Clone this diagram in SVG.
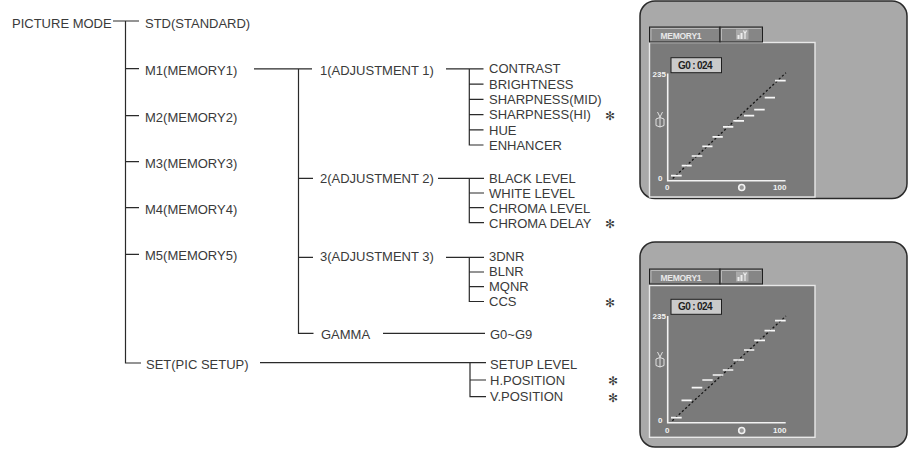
<svg xmlns="http://www.w3.org/2000/svg" width="921" height="450" viewBox="0 0 921 450">
<defs>
<style>
.t{font-family:"Liberation Sans",Arial,sans-serif;font-size:13px;fill:#3a3a3a}
.ast{font-family:"DejaVu Sans",sans-serif;font-size:12px;fill:#3a3a3a;text-anchor:middle}
.ln{fill:none;stroke:#2a2a2a;stroke-width:1.2}
.outer{fill:#a9a9a9;stroke:#2a2a2a;stroke-width:1.5}
.panel{fill:#7a7a7a;stroke:#e8e8e8;stroke-width:1.4}
.tab{fill:#868686;stroke:#1e1e1e;stroke-width:1}
.hl{fill:none;stroke:#b8b8b8;stroke-width:1}
.tabtx{font-family:"Liberation Sans",Arial,sans-serif;font-weight:bold;font-size:8.5px;fill:#e8e8e8}
.gbox{fill:#cacaca;stroke:#1e1e1e;stroke-width:1}
.gtx{font-family:"Liberation Sans",Arial,sans-serif;font-weight:bold;font-size:10px;fill:#1e1e1e}
.lab{font-family:"Liberation Sans",Arial,sans-serif;font-weight:bold;font-size:8px;fill:#f2f2f2}
.axis{fill:none;stroke:#f2f2f2;stroke-width:1.6}
.step{fill:none;stroke:#f7f7f7;stroke-width:1.7}
.dot{fill:none;stroke:#151515;stroke-width:1.3;stroke-dasharray:2.2 2.2}
.ico{fill:none;stroke:#ececec;stroke-width:0.9}
</style>
</defs>

<g id="connectors">
<path class="ln" d="M113,21 H139 M125.5,21 V363 H141 M125.5,68.6 H139 M125.5,115.7 H139 M125.5,161.7 H139 M125.5,207.7 H139 M125.5,254.3 H139"/>
<path class="ln" d="M254,68.8 H312 M298.5,68.8 V333.3 H313.5 M298.5,178.3 H313 M298.5,257.3 H313"/>
<path class="ln" d="M446,68.8 H483.5 M469.3,68.8 V145 H483.5 M469.3,84.2 H483.5 M469.3,99.4 H483.5 M469.3,114.6 H483.5 M469.3,129.8 H483.5"/>
<path class="ln" d="M438,178.3 H484 M469.3,178.3 V222.7 H484 M469.3,193 H484 M469.3,207.7 H484"/>
<path class="ln" d="M446,257.3 H484 M469.3,257.3 V301.5 H484 M469.3,272 H484 M469.3,286.7 H484"/>
<path class="ln" d="M383,333.3 H485"/>
<path class="ln" d="M260,362.7 H486 M470,362.7 V396.7 H486 M470,380 H486"/>
</g>

<g id="root"><text class="t" x="12" y="27.5">PICTURE MODE</text></g>
<g id="std"><text class="t" x="145" y="27.5">STD(STANDARD)</text></g>
<g id="m1"><text class="t" x="145" y="75">M1(MEMORY1)</text></g>
<g id="m2"><text class="t" x="145" y="121.5">M2(MEMORY2)</text></g>
<g id="m3"><text class="t" x="145" y="167.5">M3(MEMORY3)</text></g>
<g id="m4"><text class="t" x="145" y="213.5">M4(MEMORY4)</text></g>
<g id="m5"><text class="t" x="145" y="260">M5(MEMORY5)</text></g>
<g id="set"><text class="t" x="146" y="368.5">SET(PIC SETUP)</text></g>

<g id="adj1"><text class="t" x="320" y="75">1(ADJUSTMENT 1)</text></g>
<g id="adj2"><text class="t" x="320" y="182.5">2(ADJUSTMENT 2)</text></g>
<g id="adj3"><text class="t" x="320" y="261">3(ADJUSTMENT 3)</text></g>
<g id="gamma"><text class="t" x="321" y="339">GAMMA</text></g>

<g id="adj1-items">
<text class="t" x="489" y="73">CONTRAST</text>
<text class="t" x="489" y="88.7">BRIGHTNESS</text>
<text class="t" x="489" y="104">SHARPNESS(MID)</text>
<text class="t" x="489" y="119.3">SHARPNESS(HI)</text>
<text class="t" x="489" y="134.7">HUE</text>
<text class="t" x="489" y="150">ENHANCER</text>
<text class="ast" x="610" y="120">✻</text>
</g>
<g id="adj2-items">
<text class="t" x="489" y="182.5">BLACK LEVEL</text>
<text class="t" x="489" y="197.7">WHITE LEVEL</text>
<text class="t" x="489" y="213">CHROMA LEVEL</text>
<text class="t" x="489" y="228">CHROMA DELAY</text>
<text class="ast" x="610" y="228">✻</text>
</g>
<g id="adj3-items">
<text class="t" x="489" y="260.5">3DNR</text>
<text class="t" x="489" y="275.7">BLNR</text>
<text class="t" x="489" y="290.8">MQNR</text>
<text class="t" x="489" y="306">CCS</text>
<text class="ast" x="610" y="307">✻</text>
</g>
<g id="gamma-items"><text class="t" x="490" y="339">G0~G9</text></g>
<g id="set-items">
<text class="t" x="490" y="368.5">SETUP LEVEL</text>
<text class="t" x="490" y="385">H.POSITION</text>
<text class="t" x="490" y="400.5">V.POSITION</text>
<text class="ast" x="613" y="385">✻</text>
<text class="ast" x="613" y="401.5">✻</text>
</g>

<g id="screen1">
<rect class="outer" x="640" y="1" width="267" height="197.5" rx="15"/>
<rect class="panel" x="649.5" y="42.5" width="165.5" height="154.5"/>
<rect class="tab" x="649.5" y="27" width="70.5" height="15"/>
<path class="hl" d="M651,40.5 V28.5 H718.5"/>
<rect class="tab" x="720" y="27" width="42.5" height="15"/>
<path class="hl" d="M721.5,40.5 V28.5 H761"/>
<text class="tabtx" x="660.5" y="38.5" textLength="41">MEMORY1</text>
<rect x="736" y="29.5" width="12.5" height="10" fill="#a9a9a9"/>
<rect x="737.5" y="35" width="2" height="4" fill="#ececec"/>
<rect x="740.5" y="33" width="2" height="6" fill="#ececec"/>
<path d="M743.5,30.5 L745,33.5 L746.5,30.5 M745,33.5 V39" stroke="#ececec" stroke-width="1.2" fill="none"/>
<rect class="gbox" x="671" y="57.7" width="50.5" height="15"/>
<text class="gtx" x="678" y="68.7" textLength="34.5">G0 : 024</text>
<text class="lab" x="652.5" y="76.5">235</text>
<text class="lab" x="658" y="180.5">0</text>
<text class="lab" x="665" y="189.5">0</text>
<text class="lab" x="773" y="189.5">100</text>
<circle cx="741.7" cy="187.5" r="3" fill="#9a9a9a" stroke="#f2f2f2" stroke-width="1.6"/>
<path class="ico" d="M657.5,112 L660,117 L662.5,112 M656,119 L660,117.5 L664,119 V125.5 L660,127 L656,125.5 Z M660,117.5 V127"/>
<path class="axis" d="M667.7,73.5 V180.7 H785.5"/>
<path class="dot" d="M672.7,178.5 L786,72.7"/>
<path class="step" d="M671,175.7 h10.7 M681.7,165.7 h10 M691.7,156 h10.6 M702.3,146.3 h10.2 M712.5,136.8 h10.3 M723,126.8 h10.3 M733.3,120.8 h10.7 M744,115.7 h10.2 M754.2,109.6 h10.5 M764.7,97.6 h10.3 M775,80.7 h10.7"/>
</g>

<g id="screen2">
<rect class="outer" x="640" y="242" width="267" height="205" rx="15"/>
<rect class="panel" x="649.5" y="285.5" width="165.5" height="151.8"/>
<rect class="tab" x="649.5" y="269" width="70.5" height="15"/>
<path class="hl" d="M651,282.5 V270.5 H718.5"/>
<rect class="tab" x="720" y="269" width="42.5" height="15"/>
<path class="hl" d="M721.5,282.5 V270.5 H761"/>
<text class="tabtx" x="660.5" y="280.5" textLength="41">MEMORY1</text>
<rect x="736" y="271.5" width="12.5" height="10" fill="#a9a9a9"/>
<rect x="737.5" y="277" width="2" height="4" fill="#ececec"/>
<rect x="740.5" y="275" width="2" height="6" fill="#ececec"/>
<path d="M743.5,272.5 L745,275.5 L746.5,272.5 M745,275.5 V281" stroke="#ececec" stroke-width="1.2" fill="none"/>
<rect class="gbox" x="671" y="299.3" width="50.5" height="15"/>
<text class="gtx" x="678" y="310.3" textLength="34.5">G0 : 024</text>
<text class="lab" x="652.5" y="318.5">235</text>
<text class="lab" x="658" y="422.5">0</text>
<text class="lab" x="665" y="433">0</text>
<text class="lab" x="773" y="433">100</text>
<circle cx="741.7" cy="430.5" r="3" fill="#9a9a9a" stroke="#f2f2f2" stroke-width="1.6"/>
<path class="ico" d="M657.5,352 L660,357 L662.5,352 M656,359 L660,357.5 L664,359 V365.5 L660,367 L656,365.5 Z M660,357.5 V367"/>
<path class="axis" d="M667.7,316 V422.7 H785.7"/>
<path class="dot" d="M672.3,420.7 L786,316"/>
<path class="step" d="M671,417.7 h10.7 M681.5,400.3 h10.2 M691.7,387.7 h10.6 M702.3,380 h10.4 M712.7,375 h10.6 M722.8,370 h10.5 M733.3,360 h10.7 M744,350 h10.3 M754.3,340.3 h10.7 M764.5,330.7 h10.5 M775,320.7 h10.7"/>
</g>
</svg>
